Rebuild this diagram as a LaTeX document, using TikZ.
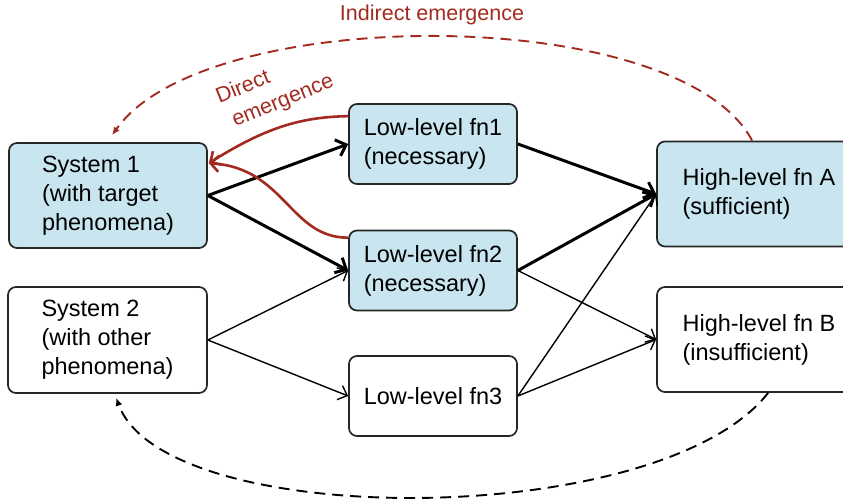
\documentclass[tikz,border=0pt]{standalone}
\usepackage{fontspec}
\setmainfont{Liberation Sans}
\usetikzlibrary{arrows.meta,calc}
\definecolor{boxblue}{RGB}{200,229,240}
\definecolor{emred}{RGB}{163,42,32}
\begin{document}
\begin{tikzpicture}[x=1pt,y=-1pt,
  box/.style={draw=black!85, line width=1.7pt, rounded corners=8pt, align=left,
    font=\fontsize{23.5}{29}\selectfont, inner sep=0pt},
  bluebox/.style={box, fill=boxblue},
  thickarr/.style={line width=3pt, -{Straight Barb[length=9pt,width=17pt]}},
  thinarr/.style={line width=1.4pt, -{Straight Barb[length=8pt,width=15pt]}},
  redarr/.style={emred, line width=2.6pt, -{Straight Barb[length=8pt,width=16pt]}},
  dasharc/.style={line width=1.9pt, dash pattern=on 11pt off 7pt},
  lbl/.style={text=emred, font=\fontsize{21.5}{24}\selectfont}]
\useasboundingbox (0,0) rectangle (843,500);
\clip (0,0) rectangle (843,500);

\node[bluebox, minimum width=198pt, minimum height=105pt] (s1) at (108,195.5) {System 1\\(with target\\phenomena)};
\node[box, minimum width=199pt, minimum height=106pt] (s2) at (107.5,340) {System 2\\(with other\\phenomena)};
\node[bluebox, minimum width=168pt, minimum height=80pt] (f1) at (433,144) {Low-level fn1\\(necessary)};
\node[bluebox, minimum width=168pt, minimum height=80pt] (f2) at (433,270.5) {Low-level fn2\\(necessary)};
\node[box, minimum width=168pt, minimum height=80pt] (f3) at (433,396) {Low-level fn3};
\node[bluebox, minimum width=204pt, minimum height=105pt] (hA) at (759,194) {High-level fn A\\(sufficient)};
\node[box, minimum width=204pt, minimum height=105pt] (hB) at (759,339.5) {High-level fn B\\(insufficient)};

\node[lbl] (ie) at (432,15) {Indirect emergence};
\node[lbl, rotate=22, anchor=base west] (de1) at (216,105) {Direct};
\node[lbl, rotate=22, anchor=base west] (de2) at (232,128) {emergence};

% black arrows
\draw[thickarr] (s1.east) -- (f1.west);
\draw[thickarr] (s1.east) -- (f2.west);
\draw[thinarr] (s2.east) -- (f2.west);
\draw[thinarr] (s2.east) -- (f3.west);
\draw[thickarr] (f1.east) -- (hA.west);
\draw[thickarr] (f2.east) -- (hA.west);
\draw[thinarr] (f2.east) -- (hB.west);
\draw[thinarr] (f3.east) -- (hA.west);
\draw[thinarr] (f3.east) -- (hB.west);

% red direct emergence
\coordinate (s1in) at ($(s1.north east)+(1,21)$);
\draw[redarr] ($(f1.north west)+(0,13)$) .. controls (300,117) and (265,128) .. (s1in);
\draw[redarr] ($(f2.north west)+(0,8)$) .. controls (290,238) and (285,168) .. (s1in);

% indirect emergence arcs
\coordinate (topend) at ($(s1.north west)+(104,-7)$);
\draw[dasharc, emred, -{Latex[length=8pt,width=7pt]}] ($(hA.north west)+(96,0)$) .. controls (680,3) and (205,3) .. (topend);
\coordinate (botend) at ($(s2.south west)+(109,4)$);
\draw[dasharc, black, -{Latex[length=8pt,width=7pt]}] ($(hB.south west)+(112,0)$) .. controls (660,531) and (165,531) .. (botend);
\end{tikzpicture}
\end{document}
